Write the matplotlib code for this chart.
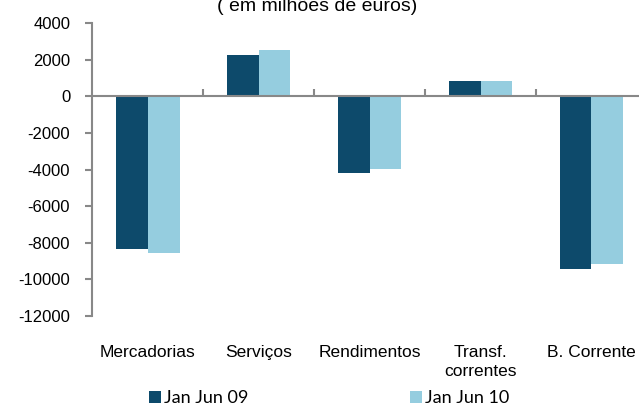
import matplotlib
matplotlib.use("Agg")
import matplotlib.pyplot as plt
import numpy as np

categories = ["Mercadorias", "Serviços", "Rendimentos", "Transf.\ncorrentes", "B. Corrente"]
jan_jun_09 = [-8320, 2250, -4180, 840, -9460]
jan_jun_10 = [-8550, 2500, -3950, 840, -9150]
series_names = ["Jan Jun 09", "Jan Jun 10"]
y_ticks = [4000, 2000, 0, -2000, -4000, -6000, -8000, -10000, -12000]

dark = "#0D4A6B"
light = "#95CDDF"
axis_grey = "#888888"

plt.rcParams["font.family"] = ["Liberation Sans", "DejaVu Sans"]

W, H = 639, 403
fig = plt.figure(figsize=(W / 100, H / 100), dpi=100)
# plot area runs slightly past the right edge of the canvas
ax = fig.add_axes([92.4 / W, (H - 316) / H, 554.5 / W, 293 / H])

x = np.arange(len(categories))
w = 0.286
b1 = ax.bar(x - w / 2, jan_jun_09, width=w, color=dark, label=series_names[0], zorder=2)
b2 = ax.bar(x + w / 2, jan_jun_10, width=w, color=light, label=series_names[1], zorder=2)

ax.set_xlim(-0.5, len(categories) - 0.5)
ax.set_ylim(-12000, 4000)
ax.set_yticks(y_ticks)
ax.set_yticklabels([str(v) for v in y_ticks], fontsize=12)
ax.tick_params(axis="y", direction="out", length=5, color=axis_grey, width=1.5, pad=11)

for s in ["top", "right", "bottom"]:
    ax.spines[s].set_visible(False)
ax.spines["left"].set_color(axis_grey)
ax.spines["left"].set_linewidth(1.5)

ax.set_xticks(x)
ax.set_xticklabels(categories, fontsize=12.5, linespacing=1.3)
ax.tick_params(axis="x", length=0, pad=21)

# zero line with category boundary ticks
ax.axhline(0, color=axis_grey, lw=1.5, zorder=3)
zero_frac = (0 - (-12000)) / (4000 - (-12000))
sec = ax.secondary_xaxis(zero_frac)
sec.set_xticks(np.arange(0.5, len(categories), 1.0))
sec.set_xticklabels([])
sec.tick_params(axis="x", direction="out", length=5, color=axis_grey, width=1.5)
for s in sec.spines.values():
    s.set_visible(False)

fig.text(317.5 / W, 1 - 11 / H, "( em milhões de euros)", ha="center", va="baseline", fontsize=14)

legend_x = [149 / W, 410 / W]
for handle, name, lx in zip([b1, b2], series_names, legend_x):
    leg = fig.legend(handles=[handle], labels=[name], loc="lower left",
                     bbox_to_anchor=(lx, -3 / H), frameon=False,
                     prop={"family": "Lato", "size": 13}, handlelength=0.65,
                     handleheight=0.65, handletextpad=0.2, borderpad=0,
                     borderaxespad=0)

fig.savefig("out.png", dpi=100)
